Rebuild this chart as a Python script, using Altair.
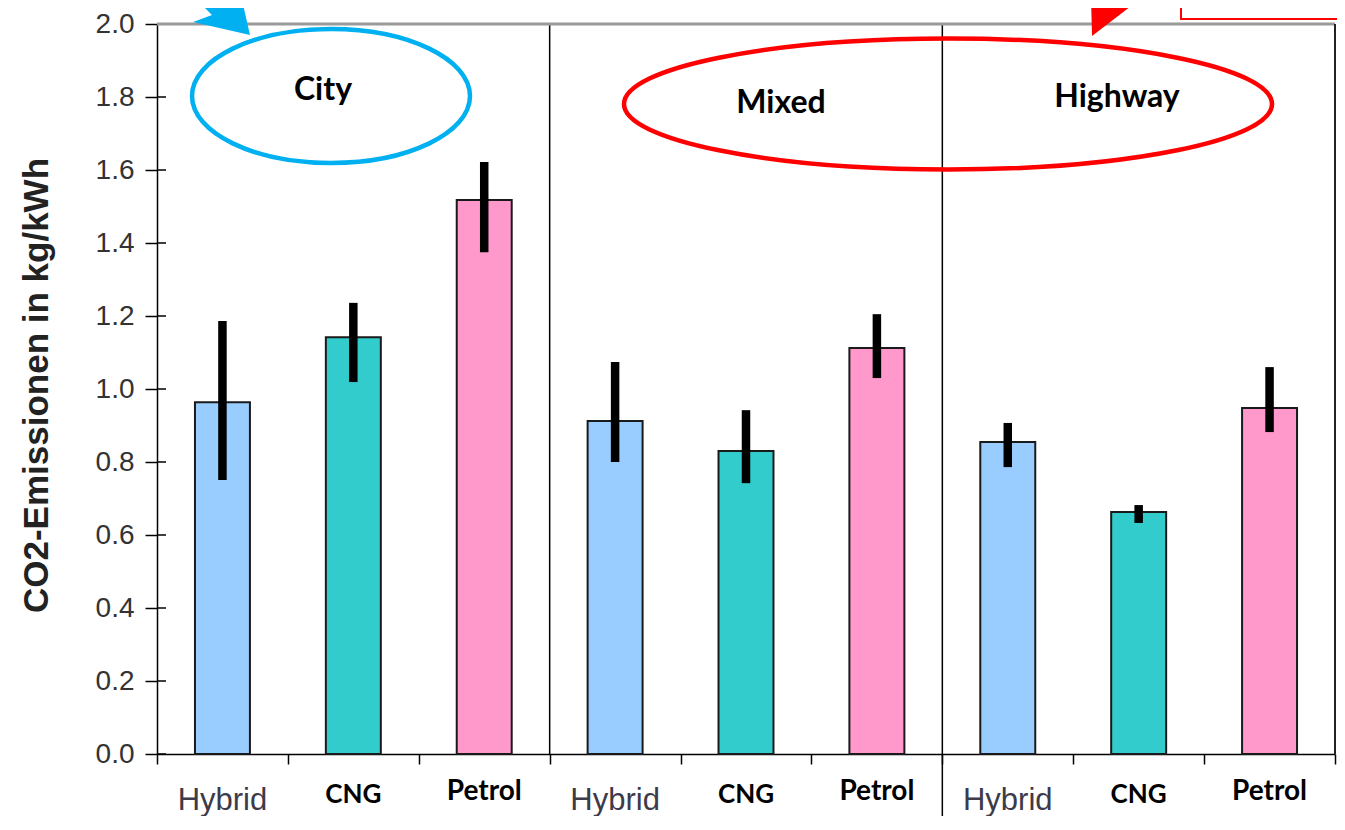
import altair as alt
import pandas as pd

groups = ["City", "Mixed", "Highway"]
fuels = ["Hybrid", "CNG", "Petrol"]
fuel_colors = ["#99CCFF", "#33CCCC", "#FF99CC"]

city_values = [0.964, 1.142, 1.518]
mixed_values = [0.912, 0.830, 1.112]
highway_values = [0.855, 0.663, 0.948]

city_low = [0.751, 1.019, 1.375]
city_high = [1.186, 1.236, 1.622]
mixed_low = [0.800, 0.742, 1.030]
mixed_high = [1.074, 0.942, 1.205]
highway_low = [0.786, 0.633, 0.882]
highway_high = [0.907, 0.682, 1.060]

y_ticks = [0.0, 0.2, 0.4, 0.6, 0.8, 1.0, 1.2, 1.4, 1.6, 1.8, 2.0]
y_title = "CO2-Emissionen in kg/kWh"

rows = []
for g, vals, lo, hi in zip(groups,
                           [city_values, mixed_values, highway_values],
                           [city_low, mixed_low, highway_low],
                           [city_high, mixed_high, highway_high]):
    for f, v, l, h in zip(fuels, vals, lo, hi):
        rows.append({"group": g, "fuel": f, "cat": f"{g}|{f}",
                     "value": v, "low": l, "high": h})
df = pd.DataFrame(rows)
cats = list(df["cat"])

W, H = 1178, 730

x_axis = alt.Axis(
    title=None, labels=False,
    tickBand="extent", tickSize=10, tickWidth=1.5, tickColor="black",
    domainColor="black", domainWidth=1.5,
)

x_scale = alt.Scale(domain=cats, paddingInner=0, paddingOuter=0)
y_scale = alt.Scale(domain=[0, 2], nice=False)

y_axis = alt.Axis(
    values=y_ticks, format=".1f", grid=False,
    tickSize=12, tickWidth=1.5, tickColor="black",
    domainColor="black", domainWidth=1.5,
    labelPadding=11, labelFont="Liberation Sans", labelFontSize=28, labelColor="#333333",
    titleFont="Liberation Sans", titleFontSize=35, titleFontWeight="bold", titleColor="#222222",
    titleX=-121, titleY=361, titleAngle=270, titleAlign="center", titleBaseline="middle",
)

base = alt.Chart(df)
xcat = alt.X("cat:N", sort=cats)

bars = base.mark_bar(width=alt.RelativeBandSize(0.42), stroke="#1a1a1a", strokeWidth=2).encode(
    x=alt.X("cat:N", sort=cats, scale=x_scale, axis=x_axis),
    y=alt.Y("value:Q", scale=y_scale, axis=y_axis, title=y_title),
    color=alt.Color("fuel:N", scale=alt.Scale(domain=fuels, range=fuel_colors), legend=None),
)

errors = base.mark_rule(strokeWidth=8.5, color="black").encode(
    x=xcat,
    y=alt.Y("low:Q", title=y_title),
    y2="high:Q",
)

def fuel_labels(fuel, font, weight, size, color, dy):
    return base.transform_filter(alt.datum.fuel == fuel).mark_text(
        font=font, fontWeight=weight, fontSize=size, color=color,
        align="center", baseline="alphabetic",
    ).encode(x=xcat, y=alt.value(H + dy), text="fuel:N")

hybrid_labels = fuel_labels("Hybrid", "Liberation Sans", "normal", 31, "#3d3a4a", 56)
cng_labels = fuel_labels("CNG", "Lato", "bold", 26, "black", 49)
petrol_labels = fuel_labels("Petrol", "Lato", "bold", 28, "black", 46)

sep_df = pd.DataFrame({"cat": ["City|Petrol", "Mixed|Petrol"]})
separators = alt.Chart(sep_df).mark_rule(color="black", strokeWidth=1.5).encode(
    x=alt.X("cat:N", sort=cats, bandPosition=1),
    y=alt.value(0),
    y2=alt.value(H),
)
sep_ext = alt.Chart(pd.DataFrame({"cat": ["Mixed|Petrol"]})).mark_rule(color="black", strokeWidth=1.5).encode(
    x=alt.X("cat:N", sort=cats, bandPosition=1),
    y=alt.value(H),
    y2=alt.value(H + 70),
)

tick_df = pd.DataFrame({"tick": y_ticks})
inner_ticks = alt.Chart(tick_df).mark_rule(color="black", strokeWidth=1.5).encode(
    y=alt.Y("tick:Q", title=y_title),
    x=alt.value(0),
    x2=alt.value(9),
)

one = pd.DataFrame({"k": [0]})
top_border = alt.Chart(one).mark_rule(color="#9a9a9a", strokeWidth=3).encode(
    x=alt.value(0), x2=alt.value(W), y=alt.value(0))
right_border = alt.Chart(one).mark_rule(color="#222222", strokeWidth=2).encode(
    x=alt.value(W), y=alt.value(0), y2=alt.value(H))

city_ellipse = alt.Chart(one).mark_point(
    shape="M -139 0 A 139 67 0 1 0 139 0 A 139 67 0 1 0 -139 0 Z",
    size=4, filled=False, color="#00B0F0", strokeWidth=4.5, opacity=1,
).encode(x=alt.value(174), y=alt.value(72))

red_ellipse = alt.Chart(one).mark_point(
    shape="M -324 0 A 324 65.5 0 1 0 324 0 A 324 65.5 0 1 0 -324 0 Z",
    size=4, filled=False, color="#FF0000", strokeWidth=4.5, opacity=1,
).encode(x=alt.value(791), y=alt.value(80))

blue_arrow = alt.Chart(one).mark_point(
    shape="M 0 0 L -57 -13 L -38 -20 L -150 -132 L -132 -150 L -20 -38 L -13 -57 Z",
    size=4, filled=True, color="#00B0F0", opacity=1, strokeWidth=0,
).encode(x=alt.value(93), y=alt.value(11))

red_arrow = alt.Chart(one).mark_point(
    shape="M 0 0 L 48.9 -37.5 L 30.6 -36.2 L 96.8 -174.8 L 75.2 -185.2 L 9 -46.6 L -1.55 -61.5 Z",
    size=4, filled=True, color="#FF0000", opacity=1, strokeWidth=0,
).encode(x=alt.value(935), y=alt.value(12))

red_box = alt.Chart(one).mark_rect(fill="transparent", stroke="#FF0000", strokeWidth=2).encode(
    x=alt.value(1024), x2=alt.value(1260), y=alt.value(-40), y2=alt.value(-5))

def label(txt, px, py):
    return alt.Chart(one).mark_text(
        font="Lato", fontWeight="bold", fontSize=32, color="black",
        align="center", baseline="middle",
    ).encode(x=alt.value(px), y=alt.value(py), text=alt.value(txt))

chart = alt.layer(
    bars, errors, hybrid_labels, cng_labels, petrol_labels,
    separators, sep_ext, inner_ticks, top_border, right_border,
    city_ellipse, red_ellipse, blue_arrow, red_arrow, red_box,
    label("City", 166, 66), label("Mixed", 624, 79), label("Highway", 960, 73),
).properties(
    width=W, height=H,
    autosize=alt.AutoSizeParams(type="none"),
    padding={"left": 149, "top": 16, "right": 2, "bottom": 62},
).configure_view(strokeWidth=0)

chart.save("out.html", embed_options={"renderer": "svg", "actions": False})
